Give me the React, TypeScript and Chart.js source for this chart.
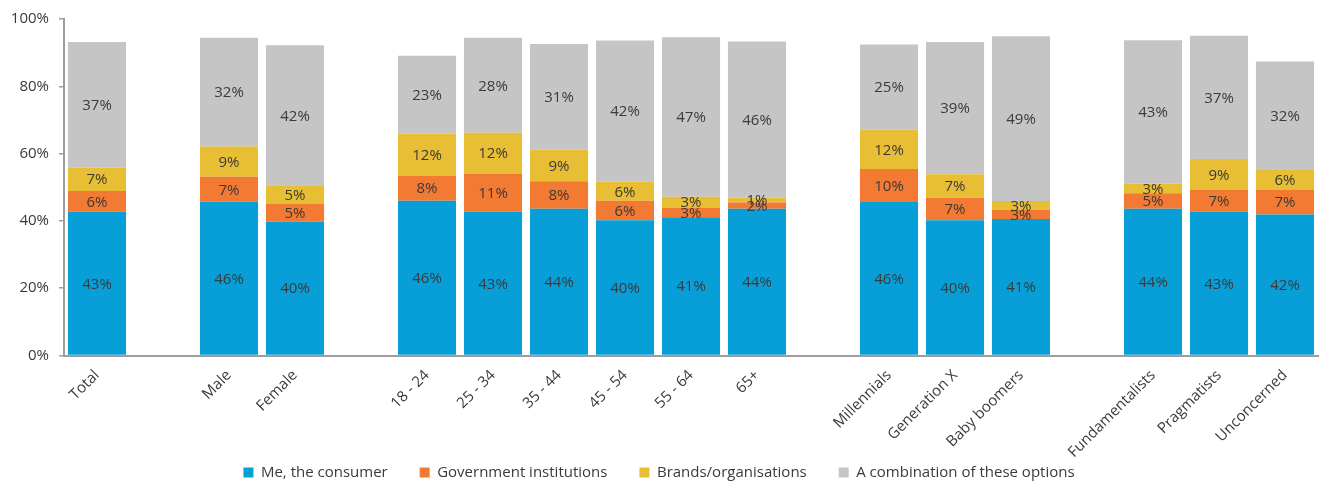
import React, { useEffect, useRef } from "react";
import { Chart, registerables } from "chart.js";

Chart.register(...registerables);

const categories: string[] = [
  "Total", "", "Male", "Female", "", "18 - 24", "25 - 34", "35 - 44", "45 - 54", "55 - 64", "65+", "",
  "Millennials", "Generation X", "Baby boomers", "", "Fundamentalists", "Pragmatists", "Unconcerned",
];

const seriesNames: string[] = [
  "Me, the consumer",
  "Government institutions",
  "Brands/organisations",
  "A combination of these options",
];

const meConsumer: (number | null)[] = [42.7, null, 45.7, 39.8, null, 46.0, 42.7, 43.6, 40.2, 41.1, 43.6, null, 45.6, 40.2, 40.6, null, 43.6, 42.7, 41.9];
const government: (number | null)[] = [6.2, null, 7.4, 5.4, null, 7.5, 11.4, 8.2, 5.8, 2.9, 1.9, null, 9.8, 6.7, 2.7, null, 4.6, 6.5, 7.4];
const brands: (number | null)[] = [7.0, null, 9.0, 5.4, null, 12.4, 12.1, 9.4, 5.6, 3.2, 1.4, null, 11.7, 7.0, 2.6, null, 2.9, 9.2, 5.8];
const combination: (number | null)[] = [37.3, null, 32.3, 41.6, null, 23.2, 28.2, 31.4, 42.0, 47.4, 46.4, null, 25.3, 39.3, 49.0, null, 42.6, 36.6, 32.3];

const colors: string[] = ["#089fd9", "#f37a32", "#e8be35", "#c4c5c4"];

const FONT = '"Open Sans", "Noto Sans", sans-serif';

const segmentLabels = {
  id: "segmentLabels",
  afterDatasetsDraw(chart: any) {
    const ctx = chart.ctx;
    ctx.save();
    ctx.font = `15px ${FONT}`;
    ctx.fillStyle = "#3a3a3a";
    ctx.textAlign = "center";
    ctx.textBaseline = "middle";
    chart.data.datasets.forEach((ds: any, di: number) => {
      const meta = chart.getDatasetMeta(di);
      meta.data.forEach((bar: any, i: number) => {
        const v = ds.data[i];
        if (v == null) return;
        const p = bar.getProps(["x", "y", "base"], true);
        ctx.fillText(Math.round(v) + "%", p.x, (p.y + p.base) / 2 + 1);
      });
    });
    ctx.restore();
  },
};

// Legend takes no layout height; it is placed over the bottom strip after layout.
const legendPlacement = {
  id: "legendPlacement",
  beforeInit(chart: any) {
    const legend = chart.legend;
    if (!legend) return;
    const orig = legend.fit;
    legend.fit = function () {
      orig.call(this);
      this.height = 0;
    };
  },
  afterLayout(chart: any) {
    const legend = chart.legend;
    if (!legend) return;
    legend.top = 433;
    legend.bottom = 484;
    legend.height = 51;
  },
};

export default function App() {
  const ref = useRef<HTMLCanvasElement | null>(null);

  useEffect(() => {
    let chart: Chart | null = null;
    let cancelled = false;
    const make = () => {
      if (cancelled || !ref.current) return;
      const data = [meConsumer, government, brands, combination];
      chart = new Chart(ref.current, {
        type: "bar",
        data: {
          labels: categories,
          datasets: seriesNames.map((name, i) => ({
            label: name,
            data: data[i],
            backgroundColor: colors[i],
            borderWidth: 0,
            categoryPercentage: 1,
            barPercentage: 0.88,
          })),
        },
        options: {
          animation: false,
          responsive: true,
          maintainAspectRatio: false,
          layout: { padding: { top: 15, right: 6, left: 0, bottom: 0 } },
          plugins: {
            tooltip: { enabled: false },
            legend: {
              position: "bottom",
              labels: {
                boxWidth: 10,
                boxHeight: 10,
                padding: 32,
                color: "#3a3a3a",
                font: { family: FONT, size: 15 },
              },
            },
          },
          scales: {
            x: {
              stacked: true,
              offset: true,
              grid: { display: false, drawTicks: false },
              border: { display: true, color: "#9d9d9d", width: 2 },
              ticks: {
                autoSkip: false,
                minRotation: 45,
                maxRotation: 45,
                padding: 11,
                color: "#3a3a3a",
                font: { family: FONT, size: 15 },
              },
              afterFit(scale: any) {
                scale.height = 128.5;
              },
            },
            y: {
              stacked: true,
              min: 0,
              max: 100,
              grid: { display: true, drawOnChartArea: false, drawTicks: true, tickLength: 5, color: "#9d9d9d", lineWidth: 1.5 },
              border: { display: true, color: "#9d9d9d", width: 2 },
              ticks: {
                stepSize: 20,
                padding: 10,
                color: "#3a3a3a",
                font: { family: FONT, size: 15 },
                callback: (v: any) => v + "%",
              },
              afterFit(scale: any) {
                scale.width = 64;
              },
            },
          },
        },
        plugins: [segmentLabels, legendPlacement],
      });
    };
    const fonts: any = (document as any).fonts;
    if (fonts && fonts.load) {
      fonts.load(`15px ${FONT}`).then(make, make);
    } else {
      make();
    }
    return () => {
      cancelled = true;
      if (chart) chart.destroy();
    };
  }, []);

  return (
    <div style={{ position: "fixed", left: 0, top: 0, width: 1324, height: 484, background: "#fff" }}>
      <canvas ref={ref} />
    </div>
  );
}
